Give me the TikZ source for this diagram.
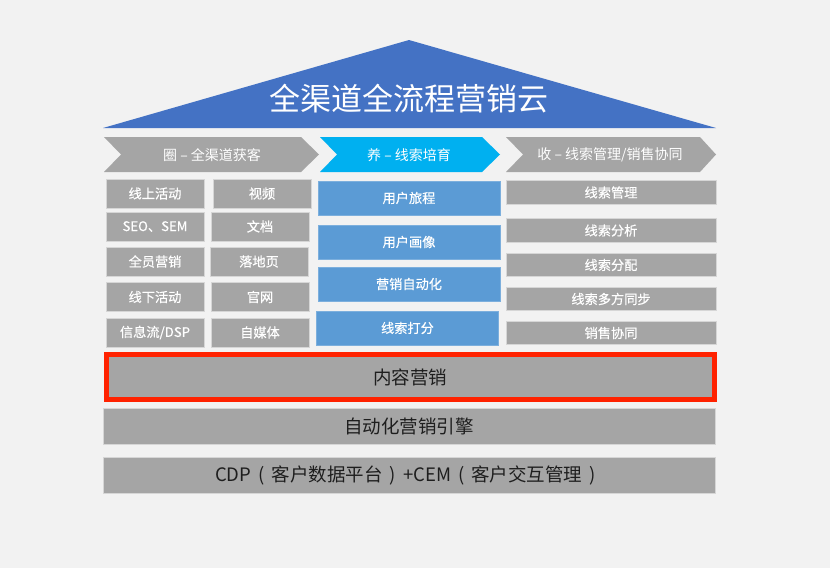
\documentclass[tikz,border=0pt]{standalone}
\usepackage{fontspec}
\setmainfont{Noto Sans CJK SC}
\newfontfamily\medf[FakeBold=0.5]{Noto Sans CJK SC}
\definecolor{bgc}{HTML}{F2F2F2}
\definecolor{roofc}{HTML}{4472C4}
\definecolor{cyanc}{HTML}{00B0F0}
\definecolor{midc}{HTML}{5B9BD5}
\definecolor{greyc}{HTML}{A5A5A5}
\definecolor{redc}{HTML}{FF2200}
\definecolor{edgec}{HTML}{D6D6D6}
\definecolor{darkt}{HTML}{1E1E1E}
\newcommand\lpar{\makebox[1.1em]{(}}
\newcommand\rpar{\makebox[1.1em]{)}}
\begin{document}
\begin{tikzpicture}[x=1pt,y=-1pt,
  box/.style={draw=edgec,line width=0.6pt,inner sep=0pt,text=white,font=\medf\fontsize{13.2}{13.2}\selectfont},
  gbox/.style={box,fill=greyc},
  bbox/.style={box,fill=midc,draw=midc!80!white},
  wide/.style={draw=edgec,line width=0.6pt,fill=greyc,inner sep=0pt,text=darkt,font=\fontsize{18.5}{18.5}\selectfont,minimum width=612pt,minimum height=36pt},
  chev/.style={text=white,font=\fontsize{14}{14}\selectfont,inner sep=0pt}]
\fill[bgc] (0,0) rectangle (830,568);
\useasboundingbox (0,0) rectangle (830,568);
% roof
\fill[roofc] (409,40) -- (716,128) -- (103,128) -- cycle;
\node[text=white,font=\fontsize{31}{31}\selectfont,inner sep=0pt] (title) at (409,99) {全渠道全流程营销云};
% chevrons
\fill[greyc] (104,137) -- (301,137) -- (319,154.5) -- (301,172) -- (104,172) -- (121,154.5) -- cycle;
\fill[cyanc] (320,137) -- (482,137) -- (500,154.5) -- (482,172) -- (320,172) -- (337,154.5) -- cycle;
\fill[greyc] (506,137) -- (700,137) -- (716,154.5) -- (700,172) -- (506,172) -- (523,154.5) -- cycle;
\node[chev] (c1) at (212,155) {圈 – 全渠道获客};
\node[chev] (c2) at (409,155) {养 – 线索培育};
\node[chev] (c3) at (610,155) {收 – 线索管理/销售协同};
% left columns
\begin{scope}[every node/.append style={minimum width=98pt,minimum height=29pt}]
\node[gbox] (l1) at (155,193.5) {线上活动};
\node[gbox] (l2) at (155,226.5) {SEO、SEM};
\node[gbox] (l3) at (155,261.5) {全员营销};
\node[gbox] (l4) at (155,297) {线下活动};
\node[gbox] (l5) at (155,332.5) {信息流/DSP};
\node[gbox] (r1) at (262,193.5) {视频};
\node[gbox] (r2) at (260,226.5) {文档};
\node[gbox] (r3) at (259,261.5) {落地页};
\node[gbox] (r4) at (260,297) {官网};
\node[gbox] (r5) at (260,332.5) {自媒体};
\end{scope}
% middle
\begin{scope}[every node/.append style={minimum width=182pt,minimum height=34pt}]
\node[bbox] (m1) at (409,198) {用户旅程};
\node[bbox] (m2) at (409,242) {用户画像};
\node[bbox] (m3) at (409,284) {营销自动化};
\node[bbox] (m4) at (407.5,328) {线索打分};
\end{scope}
% right
\begin{scope}[every node/.append style={minimum width=210pt,minimum height=23.5pt}]
\node[gbox] (s1) at (611,192.5) {线索管理};
\node[gbox] (s2) at (611,230.5) {线索分析};
\node[gbox] (s3) at (611,265) {线索分配};
\node[gbox] (s4) at (611,299) {线索多方同步};
\node[gbox] (s5) at (611,333) {销售协同};
\end{scope}
% bottom layers
\node[wide,minimum width=603pt,minimum height=40pt,draw=none] (content) at (410,377) {内容营销};
\draw[redc,line width=5pt] (106.5,354.5) rectangle (714.5,399.5);
\node[wide] (engine) at (409,426) {自动化营销引擎};
\node[wide] (cdp) at (409,475) {CDP\lpar 客户数据平台\rpar +CEM\lpar 客户交互管理\rpar};
\end{tikzpicture}
\end{document}
